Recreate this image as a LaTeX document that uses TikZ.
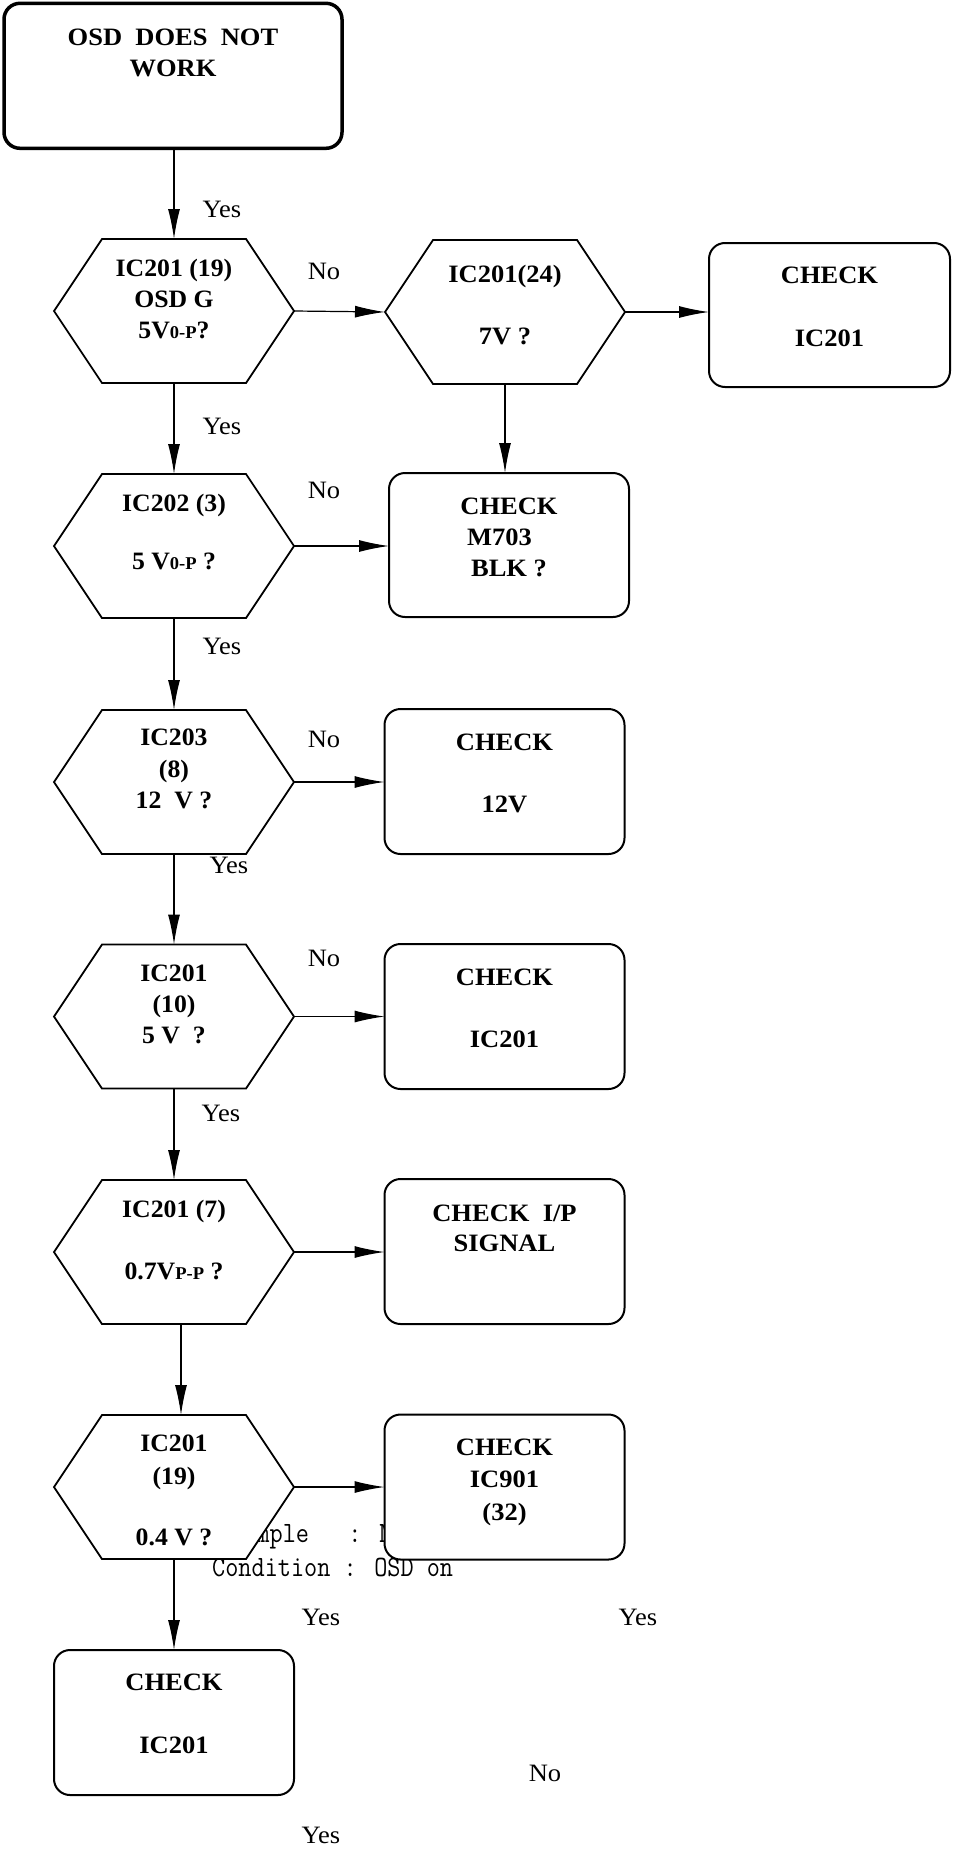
\documentclass[tikz,border=0pt]{standalone}
\usepackage{fontspec}
\setmainfont[FakeStretch=1.06]{Liberation Serif}
\newfontfamily\hexfont[FakeStretch=1.03]{Liberation Serif}
\usetikzlibrary{arrows.meta}
\tikzset{
 conn/.style={line width=1.2pt, -{Latex[length=30pt,width=12pt]}},
 hexbox/.style={minimum width=240pt, minimum height=144pt, inner sep=0pt, outer sep=0pt},
 hexline/.style={draw, line width=1.8pt, fill=white, line join=miter},
 rbox/.style={draw, line width=2pt, rounded corners=16pt, fill=white, minimum width=240pt, minimum height=145pt, inner sep=0pt, outer sep=0pt},
 txt/.style={font=\fontsize{25}{31}\selectfont\bfseries, align=center, anchor=north, inner sep=0pt},
 htxt/.style={txt, font=\hexfont\fontsize{25}{31}\selectfont\bfseries},
 lab/.style={font=\fontsize{25}{25}\selectfont, inner sep=0pt},
 note/.style={font=\ttfamily\fontsize{29.5}{29.5}\selectfont, anchor=base west, inner sep=0pt},
}
\newcommand\hexdraw[1]{\path[hexline] (#1.west) -- ([xshift=48pt]#1.north west) -- ([xshift=-48pt]#1.north east) -- (#1.east) -- ([xshift=-48pt]#1.south east) -- ([xshift=48pt]#1.south west) -- cycle;}
\newcommand\sub[1]{{\fontsize{18}{18}\selectfont #1}}
\newcommand\narrow[1]{\scalebox{0.865}[1]{#1}}
\begin{document}
\begin{tikzpicture}[x=1pt,y=-1pt]
\useasboundingbox (0,0) rectangle (953,1849);
% note text lying behind the shapes
\node[note] (n1) at (230,1542) {\narrow{Sample\phantom{xxx}: N}};
\node[note] (n2) at (212,1576) {\narrow{Condition : OSD on}};
% shapes
\node[rbox, line width=3.5pt, minimum width=338pt] (start) at (173,75.8) {};
\node[hexbox] (h1) at (174,311) {}; \hexdraw{h1}
\node[hexbox] (h2) at (505,312) {}; \hexdraw{h2}
\node[rbox, minimum width=241pt, minimum height=144pt] (b1) at (829.5,315) {};
\node[hexbox] (h3) at (174,546) {}; \hexdraw{h3}
\node[rbox, minimum height=144pt] (b2) at (509,545) {};
\node[hexbox] (h4) at (174,782) {}; \hexdraw{h4}
\node[rbox] (b3) at (504.5,781.5) {};
\node[hexbox] (h5) at (174,1016.5) {}; \hexdraw{h5}
\node[rbox] (b4) at (504.5,1016.5) {};
\node[hexbox] (h6) at (174,1252) {}; \hexdraw{h6}
\node[rbox] (b5) at (504.5,1251.5) {};
\node[hexbox] (h7) at (174,1487) {}; \hexdraw{h7}
\node[rbox] (b6) at (504.5,1487) {};
\node[rbox] (b7) at (174,1722.5) {};
% texts
\node[txt] (t0) at (173,28.5) {OSD\ \ DOES\ \ NOT\\WORK};
\node[htxt] (t1) at (174,258.5) {IC201 (19)\\OSD G\\5V\sub{0-P}?};
\node[txt] (t2) at (505,264.5) {IC201(24)\\[31pt]7V ?};
\node[txt] (t3) at (829.5,266.5) {CHECK\\[32pt]IC201};
\node[htxt] (t4) at (174,493.5) {IC202 (3)\\[27pt]5 V\sub{0-P} ?};
\node[txt] (t5) at (509,497.5) {CHECK\\\hbox{M703\hspace{19pt}}\\BLK ?};
\node[htxt] (t6) at (174,728.5) {IC203\\[1pt](8)\\12\ \ V ?};
\node[txt] (t7) at (504.5,733.5) {CHECK\\[31pt]12V};
\node[htxt] (t8) at (174,964.5) {IC201\\(10)\\5 V\ \ ?};
\node[txt] (t9) at (504.5,968.5) {CHECK\\[31pt]IC201};
\node[htxt] (t10) at (174,1199.5) {IC201 (7)\\[31pt]0.7V\sub{P-P} ?};
\node[txt] (t11) at (504.5,1204.5) {CHECK\ \ I/P\\[-1pt]SIGNAL};
\node[htxt] (t12) at (174,1434.5) {IC201\\[2pt](19)\\[30pt]0.4 V ?};
\node[txt] (t13) at (504.5,1438.5) {CHECK\\[1.5pt]IC901\\[1.5pt](32)};
\node[txt] (t14) at (174,1673.5) {CHECK\\[32pt]IC201};
% connectors
\draw[conn] (h1.north |- start.south) -- (h1.north);
\draw[conn] (h1.east) -- (h2.west);
\draw[conn] (h2.east) -- (h2.east -| b1.west);
\draw[conn] (h2.south) -- (h2.south |- b2.north);
\draw[conn] (h1.south) -- (h3.north);
\draw[conn] (h3.east) -- (h3.east -| b2.west);
\draw[conn] (h3.south) -- (h4.north);
\draw[conn] (h4.east) -- (h4.east -| b3.west);
\draw[conn] (h4.south) -- (h5.north);
\draw[conn] (h5.east) -- (h5.east -| b4.west);
\draw[conn] (h5.south) -- (h6.north);
\draw[conn] (h6.east) -- (h6.east -| b5.west);
\draw[conn] ([xshift=7pt]h6.south) -- ([xshift=7pt]h7.north);
\draw[conn] (h7.east) -- (h7.east -| b6.west);
\draw[conn] (h7.south) -- (b7.north);
% labels
\node[lab] (y1) at (222,209) {Yes};
\node[lab] (no1) at (324,271) {No};
\node[lab] (y2) at (222,426) {Yes};
\node[lab] (no2) at (324,490) {No};
\node[lab] (y3) at (222,646) {Yes};
\node[lab] (no3) at (324,739) {No};
\node[lab] (y4) at (229,865) {Yes};
\node[lab] (no4) at (324,958) {No};
\node[lab] (y5) at (221,1113) {Yes};
\node[lab] (y6) at (321,1617) {Yes};
\node[lab] (y7) at (638,1617) {Yes};
\node[lab] (no5) at (545,1773) {No};
\node[lab] (y8) at (321,1835) {Yes};
\end{tikzpicture}
\end{document}
